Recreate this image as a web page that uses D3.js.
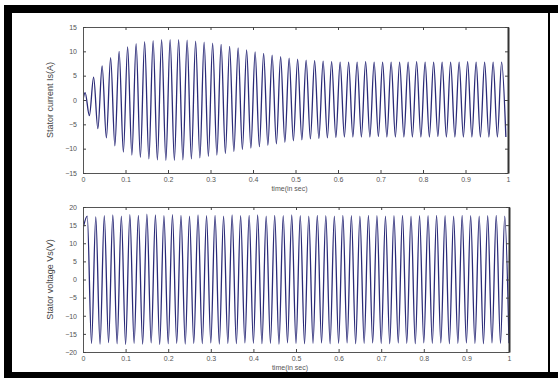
<!DOCTYPE html>
<html lang="en">
<head>
  <meta charset="UTF-8">
  <title>Stator current and voltage</title>
  <style>
    body { margin: 0; background: #fff; }
    svg { display: block; }
    text { font-family: "Liberation Sans", Arial, sans-serif; }
  </style>
</head>
<body>
  <svg width="558" height="378"></svg>
  <script src="https://d3js.org/d3.v7.min.js"></script>
  <script>
    // x axis (seconds) and tick labels
    var xTicks = [0, 0.1, 0.2, 0.3, 0.4, 0.5, 0.6, 0.7, 0.8, 0.9, 1];
    var currentTicks = [-15, -10, -5, 0, 5, 10, 15];
    var voltageTicks = [-20, -15, -10, -5, 0, 5, 10, 15, 20];

    // successive half-cycle extrema (50 Hz, one every 0.01 s)
    var halfPeriod = 0.01;
    var currentFirstPeak = 0.005;
    var currentStart = 0;
    var currentPeaks = [
      1.5, -3.2, 4.7, -5.9, 7.0, -7.8, 8.7, -9.4, 10.0, -10.7,
      10.9, -11.3, 11.6, -11.8, 12.0, -12.1, 12.2, -12.3, 12.4, -12.4,
      12.4, -12.4, 12.4, -12.3, 12.3, -12.1, 12.1, -11.9, 11.9, -11.6,
      11.7, -11.3, 11.4, -11.0, 11.0, -10.6, 10.7, -10.2, 10.3, -9.9,
      9.9, -9.6, 9.6, -9.3, 9.2, -9.0, 8.9, -8.7, 8.6, -8.4,
      8.4, -8.2, 8.2, -8.0, 8.1, -7.9, 8.0, -7.8, 7.9, -7.7,
      7.8, -7.6, 7.8, -7.6, 7.8, -7.6, 7.9, -7.6, 7.8, -7.5,
      7.8, -7.6, 7.8, -7.6, 7.8, -7.6, 7.8, -7.6, 7.9, -7.6,
      7.8, -7.6, 7.8, -7.5, 7.8, -7.6, 7.8, -7.6, 7.8, -7.6,
      7.9, -7.6, 7.8, -7.6, 7.8, -7.6, 7.8, -7.6, 7.8, -7.6
    ];

    var voltageFirstPeak = 0.01;
    var voltageStart = 14;
    var voltagePeaks = [
      17.5, -17.6, 17.3, -17.8, 17.6, -17.4, 17.8, -17.7, 17.5, -17.9,
      17.9, -17.6, 17.7, -17.8, 18.0, -17.5, 17.8, -17.9, 17.6, -17.7,
      17.9, -17.6, 17.7, -17.8, 17.5, -17.6, 17.8, -17.7, 17.6, -17.5,
      17.7, -17.8, 17.5, -17.6, 17.8, -17.7, 17.6, -17.5, 17.7, -17.6,
      17.8, -17.7, 17.5, -17.6, 17.7, -17.8, 17.6, -17.5, 17.8, -17.6,
      17.6, -17.7, 17.5, -17.6, 17.7, -17.5, 17.6, -17.7, 17.5, -17.6,
      17.7, -17.5, 17.6, -17.7, 17.5, -17.6, 17.7, -17.5, 17.6, -17.6,
      17.5, -17.7, 17.6, -17.5, 17.7, -17.6, 17.5, -17.7, 17.6, -17.5,
      17.6, -17.6, 17.7, -17.5, 17.6, -17.7, 17.5, -17.6, 17.7, -17.5,
      17.6, -17.6, 17.5, -17.7, 17.6, -17.5, 17.7, -17.6, 17.5, -17.6
    ];

    var svg = d3.select('svg');

    // black photo frame around the figure
    var frame = svg.append('g').attr('fill', '#000');
    frame.append('rect').attr('x', 4).attr('y', 5).attr('width', 554).attr('height', 8);
    frame.append('rect').attr('x', 4).attr('y', 5).attr('width', 8).attr('height', 373);
    frame.append('rect').attr('x', 4).attr('y', 372).attr('width', 554).attr('height', 6);
    frame.append('rect').attr('x', 548).attr('y', 5).attr('width', 2).attr('height', 373);

    function buildPoints(start, first, peaks) {
      var pts = [{ t: 0, v: start }];
      peaks.forEach((v, i) => pts.push({ t: first + i * halfPeriod, v: v }));
      return pts;
    }

    function panel(box, yDomain, yTicks, pts, yLabel) {
      var x = d3.scaleLinear().domain([0, 1]).range([box.left, box.right]);
      var y = d3.scaleLinear().domain(yDomain).range([box.bottom, box.top]);
      var g = svg.append('g');

      var clipId = 'clip' + box.top;
      g.append('clipPath').attr('id', clipId)
        .append('rect')
        .attr('x', box.left).attr('y', box.top)
        .attr('width', box.right - box.left).attr('height', box.bottom - box.top);

      var line = d3.line()
        .x(d => x(Math.min(d.t, 1)))
        .y(d => y(d.v))
        .curve(d3.curveMonotoneX);

      g.append('path')
        .attr('d', line(pts.filter(d => d.t <= 1.005)))
        .attr('clip-path', 'url(#' + clipId + ')')
        .style('fill', 'none')
        .style('stroke', '#2b2b78')
        .style('stroke-width', 1.3);

      // box axes with inward ticks (matlab style)
      var bottomAxis = d3.axisBottom(x).tickValues(xTicks).tickSizeInner(-3).tickSizeOuter(0)
        .tickPadding(5).tickFormat(d3.format('~g'));
      var topAxis = d3.axisTop(x).tickValues(xTicks).tickSizeInner(-3).tickSizeOuter(0).tickFormat('');
      var leftAxis = d3.axisLeft(y).tickValues(yTicks).tickSizeInner(-3).tickSizeOuter(0).tickPadding(6);
      var rightAxis = d3.axisRight(y).tickValues(yTicks).tickSizeInner(-3).tickSizeOuter(0).tickFormat('');

      var axes = [
        g.append('g').attr('transform', 'translate(' + [0, box.bottom] + ')').call(bottomAxis),
        g.append('g').attr('transform', 'translate(' + [0, box.top] + ')').call(topAxis),
        g.append('g').attr('transform', 'translate(' + [box.left, 0] + ')').call(leftAxis),
        g.append('g').attr('transform', 'translate(' + [box.right, 0] + ')').call(rightAxis)
      ];
      axes.forEach(a => {
        a.select('.domain').attr('stroke', '#555').attr('stroke-width', 1);
        a.selectAll('.tick line').attr('stroke', '#444');
        a.selectAll('text').attr('fill', '#555').style('font-size', '7px');
      });
      axes[0].selectAll('text').attr('dy', '0.6em');
      axes[3].select('.domain').attr('stroke', '#333').attr('stroke-width', 2);

      g.append('text')
        .attr('x', (box.left + box.right) / 2 - 6)
        .attr('y', box.bottom + 18)
        .attr('text-anchor', 'middle')
        .attr('fill', '#555')
        .style('font-size', '7px')
        .text('time(in sec)');

      g.append('text')
        .attr('transform', 'translate(' + [box.left - 30, (box.top + box.bottom) / 2] + ') rotate(-90)')
        .attr('text-anchor', 'middle')
        .attr('fill', '#444')
        .style('font-size', '9px')
        .text(yLabel);
    }

    panel({ left: 83, right: 508, top: 27, bottom: 173 }, [-15, 15], currentTicks,
      buildPoints(currentStart, currentFirstPeak, currentPeaks), 'Stator current Is(A)');
    panel({ left: 83, right: 509, top: 207, bottom: 352 }, [-20, 20], voltageTicks,
      buildPoints(voltageStart, voltageFirstPeak, voltagePeaks), 'Stator voltage Vs(V)');
  </script>
</body>
</html>
